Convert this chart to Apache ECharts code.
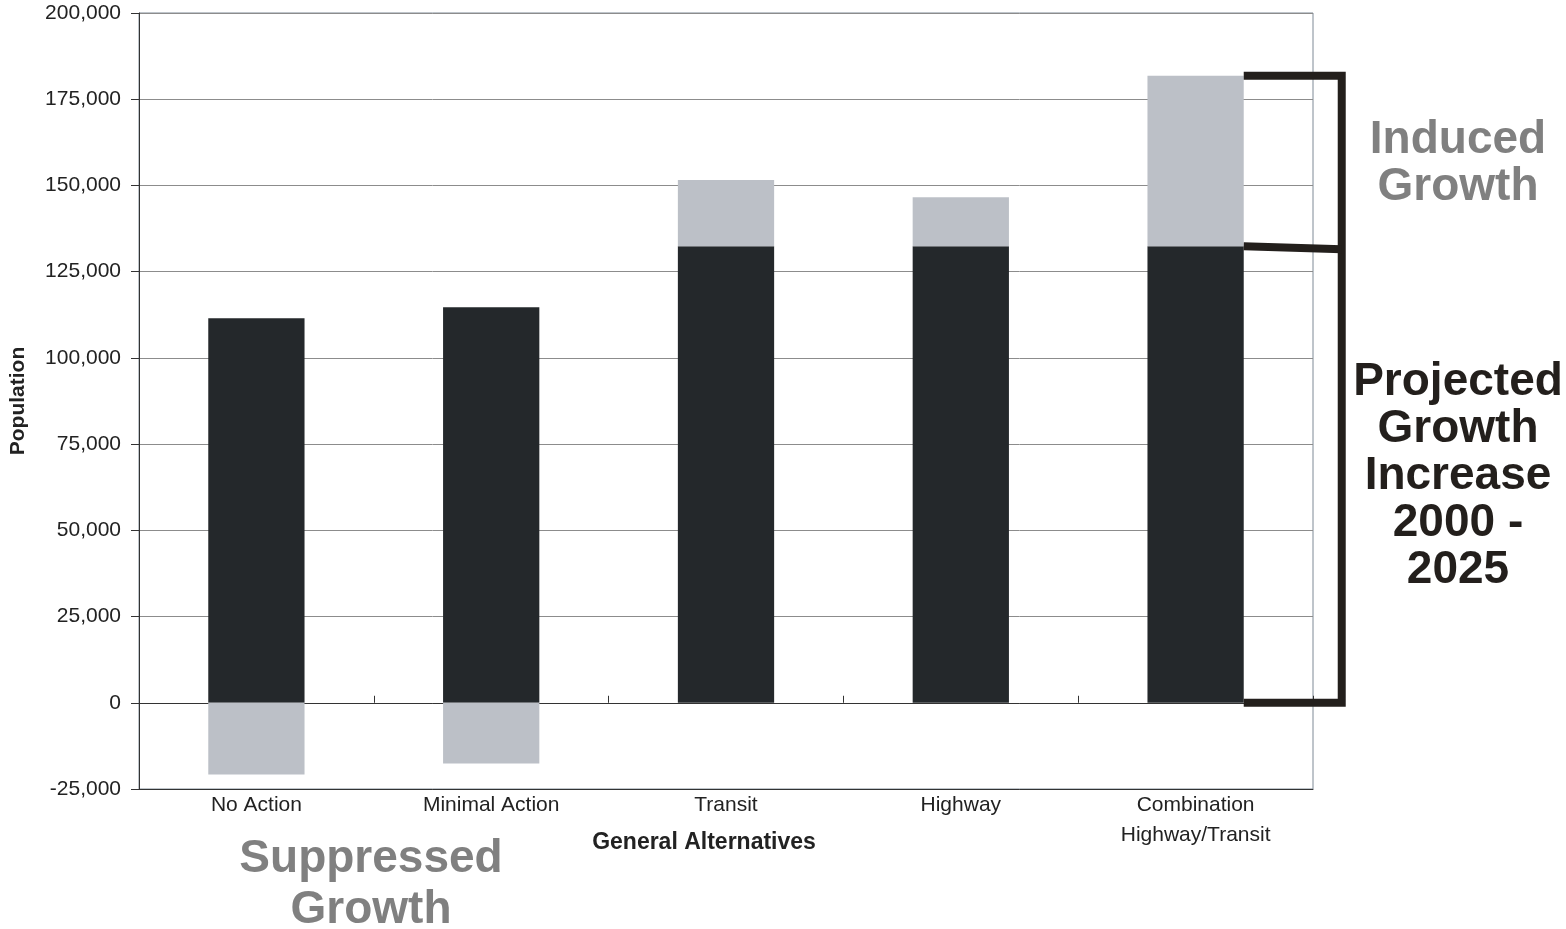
<!DOCTYPE html>
<html>
<head>
<meta charset="utf-8">
<script src="https://cdn.jsdelivr.net/npm/echarts@6/dist/echarts.min.js"></script>
<style>
html,body{margin:0;padding:0;background:#fff;}
#chart{width:1566px;height:929px;}
</style>
</head>
<body>
<div id="chart"></div>
<script>
const categories = ['No Action', 'Minimal Action', 'Transit', 'Highway', 'Combination\nHighway/Transit'];
const projectedGrowth = [111500, 114700, 132400, 132400, 132400];
const inducedGrowth = [0, 0, 19200, 14200, 49400];
const suppressedGrowth = [-20800, -17600, 0, 0, 0];
const yMin = -25000, yMax = 200000, yInterval = 25000;

const FONT = "'Liberation Sans', Arial, sans-serif";
const DARK = '#24282b';
const LIGHT = '#bcc0c7';
const BAR_W = 0.41;

const chart = echarts.init(document.getElementById('chart'));

const option = {
  backgroundColor: '#ffffff',
  animation: false,
  textStyle: { fontFamily: FONT },
  grid: {
    left: 138, right: 253, top: 13, bottom: 140,
    show: true, borderColor: '#7f8a96', borderWidth: 1
  },
  xAxis: [
    {
      type: 'category',
      data: categories,
      position: 'bottom',
      axisLine: { onZero: false, lineStyle: { color: '#333', width: 1 } },
      axisTick: { show: false },
      axisLabel: { fontSize: 21, color: '#222', margin: 1, lineHeight: 30, fontFamily: FONT },
      splitLine: { show: false },
      name: 'General Alternatives',
      nameLocation: 'middle',
      nameGap: 54,
      nameMoveOverlap: false,
      nameTextStyle: { fontSize: 23, fontWeight: 'bold', color: '#222', fontFamily: FONT,
                       verticalAlign: 'middle', padding: [0, 44, 0, 0] }
    },
    {
      type: 'category',
      data: categories,
      z: 0,
      axisLine: { onZero: true, lineStyle: { color: '#333', width: 1 } },
      axisTick: { show: true, length: 7, lineStyle: { color: '#333' } },
      axisLabel: { show: false },
      splitLine: { show: false }
    }
  ],
  yAxis: {
    type: 'value',
    min: yMin, max: yMax, interval: yInterval,
    axisLine: { show: true, lineStyle: { color: '#333' } },
    axisTick: { show: true, length: 8, lineStyle: { color: '#333' } },
    axisLabel: {
      fontSize: 21, color: '#222', margin: 18, fontFamily: FONT,
      formatter: v => v.toLocaleString('en-US')
    },
    splitLine: { show: true, lineStyle: { color: '#8c8c8c', width: 1 } },
    name: 'Population',
    nameLocation: 'middle',
    nameGap: 110,
    nameMoveOverlap: false,
    nameTextStyle: { fontSize: 21, fontWeight: 'bold', color: '#222', fontFamily: FONT }
  },
  series: [
    { name: 'Projected Growth', type: 'bar', stack: 'g', data: projectedGrowth, z: 3,
      barWidth: (BAR_W * 100) + '%', itemStyle: { color: DARK } },
    { name: 'Induced Growth', type: 'bar', stack: 'g', data: inducedGrowth, z: 3,
      barWidth: (BAR_W * 100) + '%', itemStyle: { color: LIGHT } },
    { name: 'Suppressed Growth', type: 'bar', stack: 'g', data: suppressedGrowth, z: 3,
      barWidth: (BAR_W * 100) + '%', itemStyle: { color: LIGHT } }
  ],
  graphic: [
    { id: 'induced', type: 'text', x: 1458, y: 164,
      style: { text: 'Induced\nGrowth', font: 'bold 46px ' + FONT, fill: '#808080',
               align: 'center', verticalAlign: 'middle', lineHeight: 47 } },
    { id: 'projected', type: 'text', x: 1458, y: 476,
      style: { text: 'Projected\nGrowth\nIncrease\n2000 -\n2025', font: 'bold 46px ' + FONT, fill: '#231f1c',
               align: 'center', verticalAlign: 'middle', lineHeight: 47 } },
    { id: 'suppressed', type: 'text', x: 371, y: 885,
      style: { text: 'Suppressed\nGrowth', font: 'bold 46px ' + FONT, fill: '#808080',
               align: 'center', verticalAlign: 'middle', lineHeight: 51 } }
  ]
};

chart.setOption(option);

// Bracket annotation beside the last bar, positioned from the axis scales
const last = categories.length - 1;
const cx = chart.convertToPixel({ xAxisIndex: 0 }, last);
const cw = chart.convertToPixel({ xAxisIndex: 0 }, 1) - chart.convertToPixel({ xAxisIndex: 0 }, 0);
const xL = cx + cw * BAR_W / 2;
const xV = xL + 98;
const yTop = chart.convertToPixel({ yAxisIndex: 0 }, projectedGrowth[last] + inducedGrowth[last]);
const yMid = chart.convertToPixel({ yAxisIndex: 0 }, projectedGrowth[last]);
const yZero = chart.convertToPixel({ yAxisIndex: 0 }, 0);

chart.setOption({
  graphic: [
    { id: 'bracketOuter', type: 'polyline', z: 10,
      shape: { points: [[xL, yTop], [xV, yTop], [xV, yZero], [xL, yZero]] },
      style: { stroke: '#231f1c', lineWidth: 8, fill: null, lineJoin: 'miter' } },
    { id: 'bracketMid', type: 'line', z: 10,
      shape: { x1: xL, y1: yMid, x2: xV, y2: yMid + 3 },
      style: { stroke: '#231f1c', lineWidth: 8 } }
  ]
});
</script>
</body>
</html>
